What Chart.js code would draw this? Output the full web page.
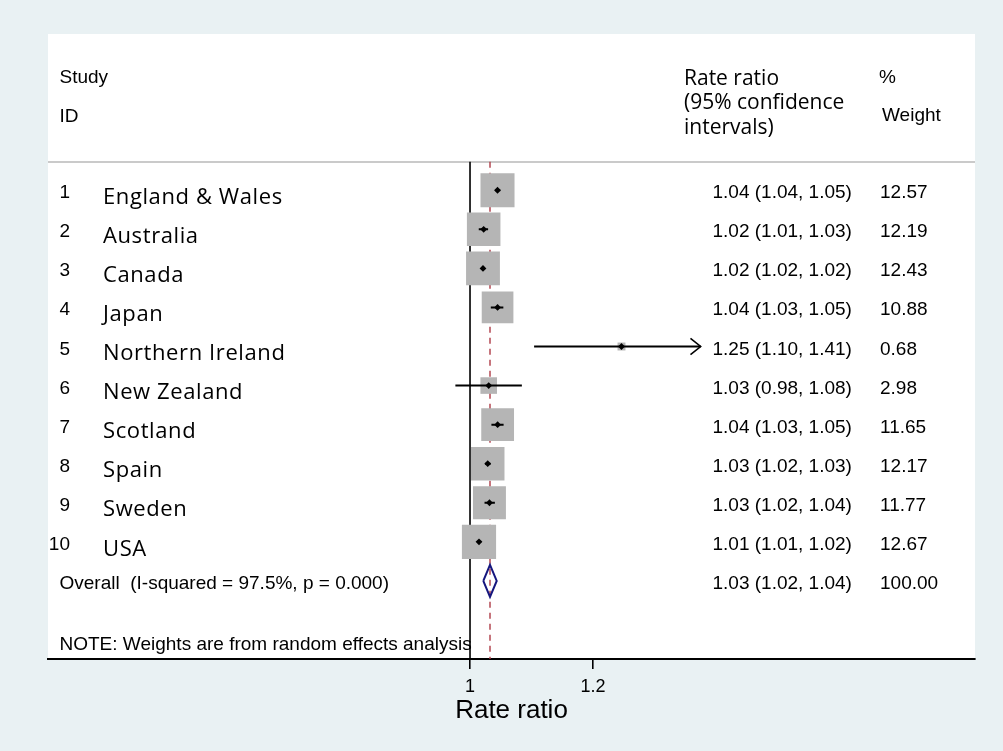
<!DOCTYPE html>
<html>
<head>
<meta charset="utf-8">
<title>Rate ratio forest plot</title>
<script src="https://cdn.jsdelivr.net/npm/chart.js@4/dist/chart.umd.min.js"></script>
<style>
  html, body { margin: 0; padding: 0; background: #e9f1f3; }
  canvas { display: block; }
</style>
</head>
<body>
<canvas id="forest" width="1003" height="751"></canvas>
<script>
// study data (labels are these values rounded to 2 dp)
const studyIds = [1, 2, 3, 4, 5, 6, 7, 8, 9, 10];
const studyNames = ['England & Wales', 'Australia', 'Canada', 'Japan', 'Northern Ireland',
  'New Zealand', 'Scotland', 'Spain', 'Sweden', 'USA'];
const rateRatio = [1.0447, 1.0222, 1.0211, 1.0448, 1.2463, 1.0304, 1.0449, 1.0288, 1.0316, 1.0146];
const ciLower = [1.0405, 1.0142, 1.0178, 1.0338, 1.1042, 0.9762, 1.0348, 1.0243, 1.0236, 1.0112];
const ciUpper = [1.0492, 1.0294, 1.0244, 1.0542, 1.4108, 1.0843, 1.0546, 1.0334, 1.0404, 1.0181];
const weights = [12.57, 12.19, 12.43, 10.88, 0.68, 2.98, 11.65, 12.17, 11.77, 12.67];

// pooled estimate: [estimate, lower, upper]
const overall = [1.0325, 1.0216, 1.0434];
const overallWeight = 100;
const overallLabel = 'Overall  (I-squared = 97.5%, p = 0.000)';
const noteLabel = 'NOTE: Weights are from random effects analysis';

// axis
const xTicks = [1, 1.2];
const xMin = 0.3138;
const xMax = 1.8211;
const ciClip = 1.375;     // CIs beyond this get an arrow
const nullValue = 1;

// rows on the y scale (reversed): studies 1..10, overall 11
const overallRow = 11;
const noteRow = 12.57;
const headerRule = 0.27;

const arial = "'Liberation Sans', Arial, sans-serif";
const nameFont = "'Open Sans', sans-serif";

const rows = studyIds.map((id, i) => i + 1);
const maxW = Math.max(...weights);

function rowPx(chart) {
  const y = chart.scales.y;
  return Math.abs(y.getPixelForValue(1) - y.getPixelForValue(0));
}

// CI segments, broken with null points
const ciData = [];
const arrowData = [];
rows.forEach((r, i) => {
  const hi = Math.min(ciUpper[i], ciClip);
  ciData.push({ x: ciLower[i], y: r }, { x: hi, y: r }, { x: hi, y: null });
  if (ciUpper[i] > ciClip) {
    arrowData.push({ x: ciClip - 0.0165, y: r - 0.21 }, { x: ciClip, y: r },
      { x: ciClip - 0.0165, y: r + 0.21 }, { x: ciClip, y: null });
  }
});

const diamondH = 0.41;
const diamondData = [
  { x: overall[1], y: overallRow }, { x: overall[0], y: overallRow - diamondH },
  { x: overall[2], y: overallRow }, { x: overall[0], y: overallRow + diamondH },
  { x: overall[1], y: overallRow }
];

const fmt = v => v.toFixed(2);

const panel = {
  id: 'panel',
  beforeDraw(chart) {
    const { ctx, chartArea: a } = chart;
    ctx.save();
    ctx.fillStyle = '#e9f1f3';
    ctx.fillRect(0, 0, chart.width, chart.height);
    ctx.fillStyle = '#ffffff';
    ctx.fillRect(a.left, a.top, a.right - a.left, a.bottom - a.top);
    const ry = Math.round(chart.scales.y.getPixelForValue(headerRule));
    ctx.strokeStyle = '#cacaca';
    ctx.lineWidth = 2;
    ctx.beginPath();
    ctx.moveTo(a.left, ry);
    ctx.lineTo(a.right, ry);
    ctx.stroke();
    ctx.restore();
  },
  afterDatasetsDraw(chart) {
    const { ctx, chartArea: a } = chart;
    const y = chart.scales.y;
    const colText = a.left + 11.5;
    const colNum = a.left + 22;
    const colName = a.left + 55;
    const colCI = a.left + 664.5;
    const colW = a.left + 832;
    const colHead = a.left + 636;
    ctx.save();
    ctx.fillStyle = '#000';
    ctx.textBaseline = 'alphabetic';
    ctx.textAlign = 'left';

    // header
    ctx.font = `19px ${arial}`;
    ctx.fillText('Study', colText, a.top + 49);
    ctx.fillText('ID', colText, a.top + 87.5);
    ctx.fillText('%', colW - 1, a.top + 49);
    ctx.fillText('Weight', colW + 2, a.top + 87);
    ctx.font = `21px ${nameFont}`;
    ctx.fillText('Rate ratio', colHead, a.top + 51);
    ctx.fillText('(95% confidence', colHead, a.top + 75);
    ctx.fillText('intervals)', colHead, a.top + 99.5);

    rows.forEach((r, i) => {
      const py = y.getPixelForValue(r);
      ctx.font = `19px ${arial}`;
      ctx.textAlign = 'right';
      ctx.fillText(String(studyIds[i]), colNum, py + 8);
      ctx.textAlign = 'left';
      ctx.fillText(`${fmt(rateRatio[i])} (${fmt(ciLower[i])}, ${fmt(ciUpper[i])})`, colCI, py + 8);
      ctx.fillText(fmt(weights[i]), colW, py + 8);
      ctx.font = `22px ${nameFont}`;
      ctx.letterSpacing = '0.6px';
      ctx.fillText(studyNames[i], colName, py + 13.7);
      ctx.letterSpacing = '0px';
    });

    const oy = y.getPixelForValue(overallRow);
    ctx.font = `19px ${arial}`;
    ctx.fillText(overallLabel, colText, oy + 8);
    ctx.fillText(`${fmt(overall[0])} (${fmt(overall[1])}, ${fmt(overall[2])})`, colCI, oy + 8);
    ctx.fillText(fmt(overallWeight), colW, oy + 8);
    ctx.fillText(noteLabel, colText, y.getPixelForValue(noteRow) + 8);
    ctx.restore();
  }
};

new Chart(document.getElementById('forest'), {
  type: 'scatter',
  data: {
    datasets: [
      {
        label: 'estimate',
        data: rows.map((r, i) => ({ x: rateRatio[i], y: r })),
        pointStyle: 'rectRot',
        pointRadius: 3.4,
        backgroundColor: '#000',
        borderWidth: 0
      },
      {
        label: 'ci',
        data: ciData,
        showLine: true,
        borderColor: '#000',
        borderWidth: 2,
        pointRadius: 0
      },
      {
        label: 'arrow',
        data: arrowData,
        showLine: true,
        borderColor: '#000',
        borderWidth: 1.6,
        pointRadius: 0
      },
      {
        label: 'overall',
        data: diamondData,
        showLine: true,
        borderColor: '#15167e',
        borderWidth: 2,
        pointRadius: 0,
        fill: false
      },
      {
        label: 'weight',
        data: rows.map((r, i) => ({ x: rateRatio[i], y: r })),
        pointStyle: 'rect',
        backgroundColor: '#b5b5b5',
        borderWidth: 0,
        pointRadius: ctx => {
          const w = weights[ctx.dataIndex];
          return Math.sqrt(w / maxW) * 0.875 * rowPx(ctx.chart) / Math.SQRT2;
        }
      },
      {
        label: 'pooled line',
        data: [{ x: overall[0], y: headerRule }, { x: overall[0], y: 13 }],
        showLine: true,
        borderColor: '#ae3a46',
        borderWidth: 1.4,
        borderDash: [6, 5],
        pointRadius: 0
      },
      {
        label: 'null line',
        data: [{ x: nullValue, y: headerRule }, { x: nullValue, y: 13 }],
        showLine: true,
        borderColor: '#000',
        borderWidth: 1.6,
        pointRadius: 0
      }
    ]
  },
  options: {
    responsive: false,
    animation: false,
    devicePixelRatio: 1,
    layout: { padding: { left: 48, right: 28, top: 34, bottom: 27 } },
    plugins: { legend: { display: false }, tooltip: { enabled: false } },
    scales: {
      x: {
        type: 'linear',
        min: xMin,
        max: xMax,
        afterBuildTicks: axis => { axis.ticks = xTicks.map(v => ({ value: v })); },
        ticks: {
          color: '#000',
          font: { family: arial, size: 18 },
          padding: 7.5,
          maxRotation: 0,
          autoSkip: false,
          callback: v => String(v)
        },
        grid: { drawOnChartArea: false, drawTicks: true, tickLength: 10, color: '#000', lineWidth: 1.6 },
        border: { color: '#000', width: 2 },
        title: {
          display: true,
          text: 'Rate ratio',
          color: '#000',
          font: { family: arial, size: 26, lineHeight: 1 },
          padding: { top: -7.6, bottom: 0 }
        }
      },
      y: { type: 'linear', reverse: true, min: -3, max: 13, display: false }
    }
  },
  plugins: [panel]
});
</script>
</body>
</html>
